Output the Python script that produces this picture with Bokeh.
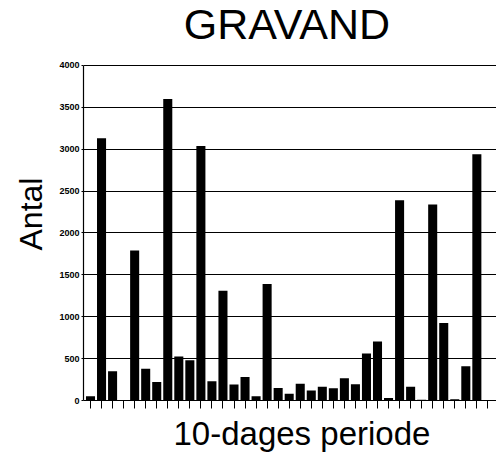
from bokeh.plotting import figure
from bokeh.models import Range1d, FixedTicker, Title, Label, ColumnDataSource
from bokeh.embed import file_html
from bokeh.resources import INLINE

# 10-day periods (index) and counts
periods = list(range(37))
counts = [50, 3130, 350, 0, 1790, 380, 220, 3600, 525, 480, 3040, 230, 1310, 190,
          280, 50, 1390, 150, 80, 200, 120, 165, 145, 265, 195, 560, 705, 30,
          2390, 165, 10, 2340, 925, 15, 410, 2940, 0]
y_ticks = [0, 500, 1000, 1500, 2000, 2500, 3000, 3500, 4000]
y_max = 4000

FONT = "Liberation Sans"

# frame spans the full height above the x axis; the value axis is bounded to 0..4000
p = figure(width=496, height=455, x_range=Range1d(-0.634, 36.78), y_range=Range1d(0, 4776),
           output_backend="svg", toolbar_location=None,
           min_border_left=83, min_border_right=0, min_border_top=0, min_border_bottom=55)
p.title.text = ""

src = ColumnDataSource(dict(x=periods, top=counts))
p.vbar(x="x", top="top", width=0.82, source=src, fill_color="black", line_color=None)

p.outline_line_color = None
p.xgrid.grid_line_color = None
p.ygrid.grid_line_color = "black"
p.ygrid.grid_line_width = 1.2
p.ygrid.ticker = FixedTicker(ticks=y_ticks)

p.yaxis.ticker = FixedTicker(ticks=y_ticks)
p.yaxis.bounds = (0, y_max)
p.yaxis.major_label_text_font = FONT
p.yaxis.major_label_text_font_size = "9px"
p.yaxis.major_label_text_font_style = "bold"
p.yaxis.major_label_text_color = "black"
p.yaxis.major_label_standoff = 2
p.yaxis.major_tick_out = 2
p.yaxis.major_tick_in = 0
p.yaxis.minor_tick_line_color = None
p.yaxis.axis_line_color = "black"
p.yaxis.axis_line_width = 1.2

p.xaxis.ticker = FixedTicker(ticks=periods)
p.xaxis.major_label_overrides = {i: "" for i in periods}
p.xaxis.major_label_text_font_size = "1px"
p.xaxis.major_label_standoff = 0
p.xaxis.major_tick_out = 8
p.xaxis.major_tick_in = 0
p.xaxis.minor_tick_line_color = None
p.xaxis.axis_line_color = "black"
p.xaxis.axis_line_width = 1.2

title = Label(x=203.5, y=377, x_units="screen", y_units="screen", text="GRAVAND",
              text_font=FONT, text_font_size="43px", text_align="center",
              text_baseline="alphabetic", text_color="black")
p.add_layout(title)

ylab = Title(text="Antal", text_font=FONT, text_font_size="32px",
             text_font_style="normal", text_color="black", align="left", offset=150,
             vertical_align="middle", standoff=14)
p.add_layout(ylab, "left")

xlab = Title(text="10-dages periode", text_font=FONT, text_font_size="33px",
             text_font_style="normal", text_color="black", align="left", offset=90,
             standoff=8)
p.add_layout(xlab, "below")

open("out.html", "w").write(file_html(p, INLINE))
